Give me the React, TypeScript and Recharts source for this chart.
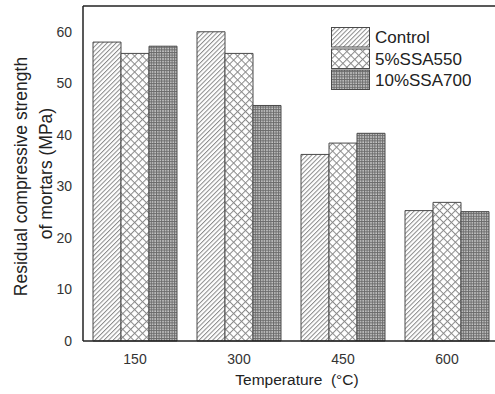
import { BarChart, Bar, XAxis, YAxis, ReferenceLine } from "recharts";

const temperatures = ["150", "300", "450", "600"];
const control = [58.0, 60.0, 36.2, 25.3];
const ssa550 = [55.8, 55.8, 38.4, 26.9];
const ssa700 = [57.2, 45.7, 40.3, 25.1];
const yTicks = [0, 10, 20, 30, 40, 50, 60];

const seriesNames = ["Control", "5%SSA550", "10%SSA700"];

const data = temperatures.map((t, i) => ({
  temp: t,
  control: control[i],
  ssa550: ssa550[i],
  ssa700: ssa700[i],
}));

const font = '"Liberation Sans", Arial, sans-serif';
const edge = "#4a4a4a";

// hatch fills shared by the bars and the legend swatches
function Hatches({ prefix }: { prefix: string }) {
  return (
    <defs>
      <pattern id={`${prefix}-diag`} width={3.2} height={8} patternUnits="userSpaceOnUse" patternTransform="rotate(45)">
        <rect width={3.2} height={8} fill="#fff" />
        <line x1={0.5} y1={0} x2={0.5} y2={8} stroke="#8a8a8a" strokeWidth={1} />
      </pattern>
      <pattern id={`${prefix}-cross`} width={5.6} height={5.6} patternUnits="userSpaceOnUse" patternTransform="rotate(45)">
        <rect width={5.6} height={5.6} fill="#fff" />
        <line x1={0.5} y1={0} x2={0.5} y2={5.6} stroke="#8a8a8a" strokeWidth={1} />
        <line x1={0} y1={0.5} x2={5.6} y2={0.5} stroke="#8a8a8a" strokeWidth={1} />
      </pattern>
      <pattern id={`${prefix}-grid`} width={2.6} height={2.6} patternUnits="userSpaceOnUse">
        <rect width={2.6} height={2.6} fill="#c8c8c8" />
        <line x1={0.5} y1={0} x2={0.5} y2={2.6} stroke="#6a6a6a" strokeWidth={1} />
        <line x1={0} y1={0.5} x2={2.6} y2={0.5} stroke="#6a6a6a" strokeWidth={1} />
      </pattern>
    </defs>
  );
}

const fills = ["diag", "cross", "grid"];

function LegendBox() {
  return (
    <svg width={140} height={66} style={{ position: "absolute", left: 331, top: 27 }}>
      <Hatches prefix="lg" />
      {seriesNames.map((name, i) => {
        const top = [0.5, 22, 43][i];
        return (
          <g key={name}>
            <rect x={0.5} y={top} width={38} height={19.5} fill={`url(#lg-${fills[i]})`} stroke={edge} strokeWidth={1} />
            <text x={44} y={[16, 37.5, 59][i]} fontSize={17} fontFamily={font} fill="#222">
              {name}
            </text>
          </g>
        );
      })}
    </svg>
  );
}

function YLabel(props: any) {
  const vb = props.viewBox || { x: 0, y: 6, width: 83, height: 335 };
  const cy = vb.y + vb.height / 2 + 3;
  return (
    <g fontFamily={font} fontSize={17.5} fill="#222" textAnchor="middle">
      <text transform={`translate(27,${cy}) rotate(-90)`}>Residual compressive strength</text>
      <text transform={`translate(52,${cy - 3}) rotate(-90)`}>of mortars (MPa)</text>
    </g>
  );
}

function XLabel(props: any) {
  const vb = props.viewBox || { x: 83, y: 341, width: 416, height: 53 };
  return (
    <text
      x={vb.x + vb.width / 2 + 6}
      y={385}
      textAnchor="middle"
      fontFamily={font}
      fontSize={15.5}
      fill="#222"
      style={{ whiteSpace: "pre" }}
    >
      {"Temperature  (°C)"}
    </text>
  );
}

export default function App() {
  return (
    <div style={{ position: "absolute", left: 0, top: 0, width: 495, height: 394, overflow: "hidden", background: "#fff" }}>
      <BarChart
        width={510}
        height={394}
        data={data}
        margin={{ top: 6, right: 11, left: 0, bottom: 0 }}
        barCategoryGap={10}
        barGap={0}
      >
        <Hatches prefix="bar" />
        <XAxis
          dataKey="temp"
          height={53}
          tickLine={false}
          tickSize={0}
          tickMargin={13}
          axisLine={{ stroke: "#222", strokeWidth: 1.5 }}
          tick={{ fontSize: 14, fontFamily: font, fill: "#333" }}
          label={XLabel}
        />
        <YAxis
          width={83}
          domain={[0, 65]}
          ticks={yTicks}
          tickLine={false}
          tickSize={0}
          tickMargin={11}
          axisLine={{ stroke: "#222", strokeWidth: 1.5 }}
          tick={{ fontSize: 14, fontFamily: font, fill: "#333" }}
          label={YLabel}
        />
        <ReferenceLine y={65} stroke="#222" strokeWidth={1.5} />
        <Bar dataKey="control" name="Control" fill="url(#bar-diag)" stroke={edge} strokeWidth={1} isAnimationActive={false} />
        <Bar dataKey="ssa550" name="5%SSA550" fill="url(#bar-cross)" stroke={edge} strokeWidth={1} isAnimationActive={false} />
        <Bar dataKey="ssa700" name="10%SSA700" fill="url(#bar-grid)" stroke={edge} strokeWidth={1} isAnimationActive={false} />
      </BarChart>
      <LegendBox />
    </div>
  );
}
